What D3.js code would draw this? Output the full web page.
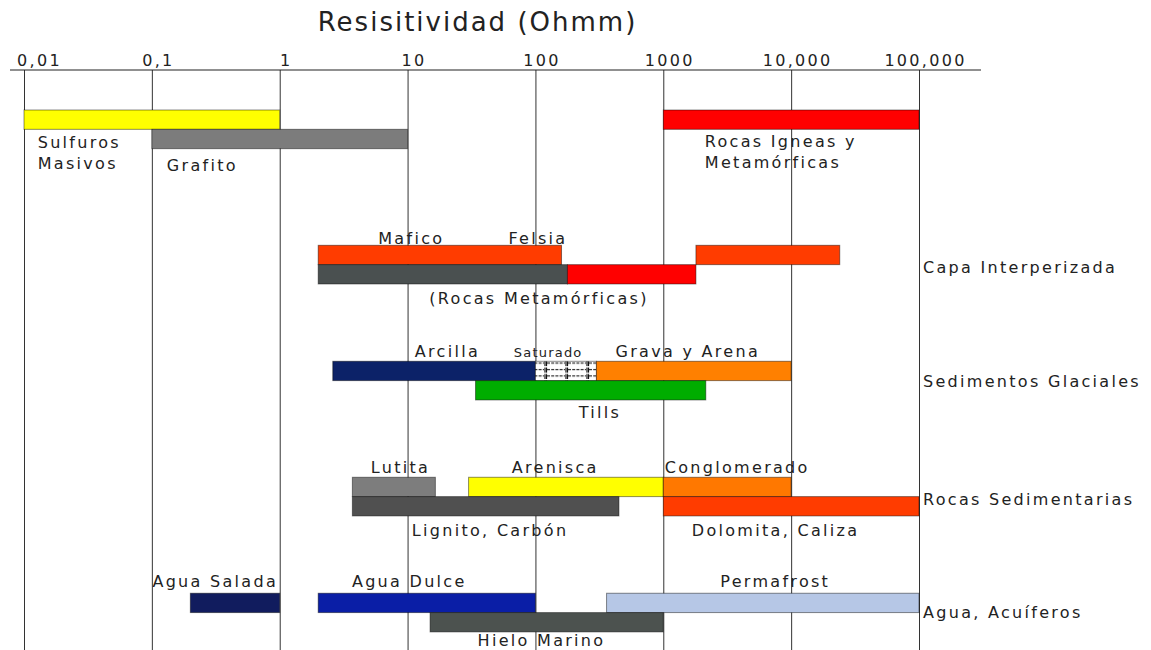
<!DOCTYPE html>
<html>
<head>
<meta charset="utf-8">
<script src="https://cdn.jsdelivr.net/npm/d3@7"></script>
<style>
  html, body { margin: 0; padding: 0; background: #fff; }
  svg { display: block; }
  text { font-family: "DejaVu Sans", Verdana, sans-serif; fill: #222; }
</style>
</head>
<body>
<svg id="chart" width="1151" height="650"></svg>
<script>
// ---------------- DATA ----------------
const title = "Resisitividad (Ohmm)";
const tickValues = [0.01, 0.1, 1, 10, 100, 1000, 10000, 100000];
const tickLabels = ["0,01", "0,1", "1", "10", "100", "1000", "10,000", "100,000"];

// resistivity ranges (Ohm·m) and the track (row) each bar sits on
const barNames = ["Sulfuros Masivos", "Grafito", "Rocas Igneas y Metamórficas",
  "Mafico-Felsia", "Felsia alta", "Metamórficas baja", "Metamórficas alta",
  "Arcilla", "Saturado", "Grava y Arena", "Tills",
  "Lutita", "Arenisca", "Conglomerado", "Lignito, Carbón", "Dolomita, Caliza",
  "Agua Salada", "Agua Dulce", "Permafrost", "Hielo Marino"];
const barLow  = [0.01, 0.1, 1000, 2, 1800, 2, 178, 2.6, 100, 300, 34, 3.7, 30, 1000, 3.7, 1000, 0.2, 2, 360, 15];
const barHigh = [1, 10, 100000, 160, 24000, 178, 1800, 100, 300, 10000, 2150, 16.5, 1000, 10000, 450, 100000, 1, 100, 100000, 1000];
const barRow  = [0, 1, 0, 7, 7, 8, 8, 13, 13, 13, 14, 19, 19, 19, 20, 20, 25, 25, 25, 26];

const categories = ["Capa Interperizada", "Sedimentos Glaciales", "Rocas Sedimentarias", "Agua, Acuíferos"];
const categoryRow = [8.43, 14.33, 20.43, 26.28];

const labelTexts  = ["Sulfuros", "Masivos", "Grafito", "Rocas Igneas y", "Metamórficas",
  "Mafico", "Felsia", "(Rocas Metamórficas)",
  "Arcilla", "Saturado", "Grava y Arena", "Tills",
  "Lutita", "Arenisca", "Conglomerado", "Lignito, Carbón", "Dolomita, Caliza",
  "Agua Salada", "Agua Dulce", "Permafrost", "Hielo Marino"];
const labelValue  = [0.0128, 0.0128, 0.131, 2113, 2113, 5.9, 61.5, 14.8,
  11.4, 67.8, 423, 218, 5.16, 65.3, 1028, 10.8, 1671, 0.101, 3.67, 2793, 35.3];
const labelRow    = [1.97, 3.05, 3.16, 1.91, 3.0, 6.93, 6.93, 10.04,
  12.78, 12.78, 12.78, 15.93, 18.78, 18.78, 18.78, 22.04, 22.04, 24.68, 24.68, 24.68, 27.73];

// ---------------- STYLE ----------------
const colors = {
  "Sulfuros Masivos": "#ffff00",
  "Grafito": "#7c7c7c",
  "Rocas Igneas y Metamórficas": "#ff0000",
  "Mafico-Felsia": "#ff3c00",
  "Felsia alta": "#ff3c00",
  "Metamórficas baja": "#4a5050",
  "Metamórficas alta": "#ff0000",
  "Arcilla": "#0c2268",
  "Saturado": "url(#satPattern)",
  "Grava y Arena": "#ff8000",
  "Tills": "#00ad00",
  "Lutita": "#7d7d7d",
  "Arenisca": "#ffff00",
  "Conglomerado": "#ff7800",
  "Lignito, Carbón": "#505050",
  "Dolomita, Caliza": "#ff3c00",
  "Agua Salada": "#111c5e",
  "Agua Dulce": "#0a1ea6",
  "Permafrost": "#b6c7e6",
  "Hielo Marino": "#4c524f"
};
const smallLabels = new Set(["Saturado"]);
const FS = 16, LS = 2.3;

const W = 1151, H = 650;
const svg = d3.select("#chart");

const defs = svg.append("defs");
const pat = defs.append("pattern").attr("id", "satPattern")
  .attr("patternUnits", "userSpaceOnUse").attr("width", 21).attr("height", 6.44)
  .attr("x", 0).attr("y", 0);
pat.append("rect").attr("width", 21).attr("height", 6.44).attr("fill", "#fff");
pat.append("line").attr("x1", 1).attr("x2", 19).attr("y1", 2.5).attr("y2", 2.5)
  .attr("stroke", "#222").attr("stroke-width", 1.2).attr("stroke-dasharray", "3,1.2");
pat.append("line").attr("x1", 0.5).attr("x2", 0.5).attr("y1", 0.5).attr("y2", 5.5)
  .attr("stroke", "#111").attr("stroke-width", 1.2);
pat.append("line").attr("x1", 20).attr("x2", 20).attr("y1", 0.5).attr("y2", 5.5)
  .attr("stroke", "#111").attr("stroke-width", 1.2);

const x = d3.scaleLog().domain([0.01, 100000]).range([24, 919]);
const rowUnit = 19.33;
const y = d3.scaleLinear().domain([0, 27]).range([110, 110 + 27 * rowUnit]);
const axisY = 70;

// axis + gridlines
const axis = d3.axisTop(x)
  .tickValues(tickValues)
  .tickFormat((d, i) => tickLabels[i])
  .tickSizeInner(-(H - axisY))
  .tickSizeOuter(0)
  .tickPadding(4);

const gAxis = svg.append("g").attr("transform", `translate(0,${axisY})`).call(axis);
gAxis.select(".domain").remove();
gAxis.selectAll(".tick line").attr("stroke", "#333").attr("stroke-width", 1);
gAxis.selectAll(".tick text")
  .attr("font-size", FS)
  .attr("font-family", "DejaVu Sans, Verdana, sans-serif")
  .attr("letter-spacing", LS)
  .attr("fill", "#222")
  .attr("dx", (d, i) => i === 0 ? 15 : 6);

svg.append("line")
  .attr("x1", x(0.01) - 14).attr("x2", x(100000) + 62)
  .attr("y1", axisY).attr("y2", axisY)
  .attr("stroke", "#222").attr("stroke-width", 1.2);

// title
svg.append("text")
  .attr("x", (x.range()[0] + x.range()[1]) / 2 + 6)
  .attr("y", 31)
  .attr("text-anchor", "middle")
  .attr("font-size", 26)
  .attr("letter-spacing", 2)
  .text(title);

// bars
const bars = barNames.map((n, i) => ({ name: n, lo: barLow[i], hi: barHigh[i], row: barRow[i] }));
svg.append("g").selectAll("rect").data(bars).join("rect")
  .attr("x", d => x(d.lo))
  .attr("width", d => x(d.hi) - x(d.lo))
  .attr("y", d => y(d.row))
  .attr("height", y(1) - y(0))
  .attr("fill", d => colors[d.name])
  .attr("stroke", "rgba(0,0,0,0.45)")
  .attr("stroke-width", 1);

// bar labels
const labels = labelTexts.map((t, i) => ({ t, v: labelValue[i], r: labelRow[i] }));
svg.append("g").selectAll("text").data(labels).join("text")
  .attr("x", d => x(d.v))
  .attr("y", d => y(d.r))
  .attr("font-size", d => smallLabels.has(d.t) ? 13 : FS)
  .attr("letter-spacing", d => smallLabels.has(d.t) ? 1.2 : LS)
  .text(d => d.t);

// category labels on the right
svg.append("g").selectAll("text").data(categories).join("text")
  .attr("x", x.range()[1] + 4)
  .attr("y", (d, i) => y(categoryRow[i]))
  .attr("font-size", FS)
  .attr("letter-spacing", LS)
  .text(d => d);
</script>
</body>
</html>
